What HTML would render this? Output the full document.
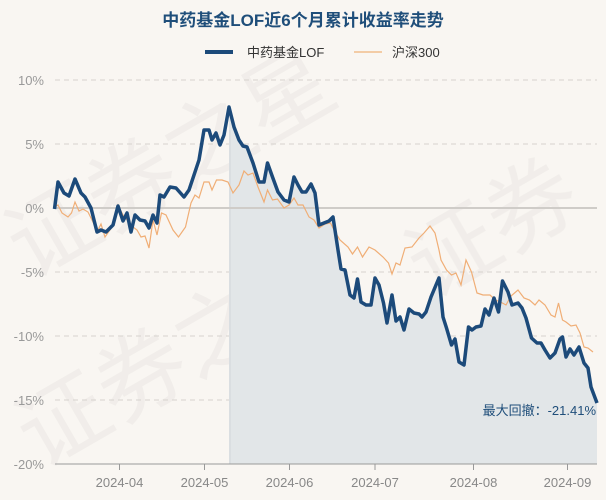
<!DOCTYPE html>
<html><head><meta charset="utf-8"><style>
html,body{margin:0;padding:0;background:#f9f6f2;width:606px;height:500px;overflow:hidden;}
svg{display:block;font-family:"Liberation Sans","Noto Sans CJK SC",sans-serif;}
</style></head><body>
<svg width="606" height="500" viewBox="0 0 606 500">
<rect width="606" height="500" fill="#f9f6f2"/>
<g fill="#ebe8e4" font-size="90" opacity="0.6">
<text x="30" y="280" transform="rotate(-30 30 280)">证券之星</text>
<text x="40" y="470" transform="rotate(-30 40 470)">证券之</text>
<text x="430" y="300" transform="rotate(-30 430 300)">证券</text>
</g>
<text x="303" y="26" text-anchor="middle" font-size="17" font-weight="bold" fill="#1f4e7a">中药基金LOF近6个月累计收益率走势</text>
<line x1="205" y1="52" x2="233" y2="52" stroke="#1c4a7a" stroke-width="4"/>
<text x="247" y="57" font-size="13" fill="#333">中药基金LOF</text>
<line x1="354" y1="52" x2="382" y2="52" stroke="#f0b27a" stroke-width="1.2"/>
<text x="392" y="57" font-size="13" fill="#333">沪深300</text>
<g stroke="#d6d3cf" stroke-dasharray="5,4" stroke-width="1">
<line x1="55" y1="80" x2="597" y2="80"/><line x1="55" y1="144" x2="597" y2="144"/>
<line x1="55" y1="272" x2="597" y2="272"/><line x1="55" y1="336" x2="597" y2="336"/>
<line x1="55" y1="400" x2="597" y2="400"/>
</g>
<g font-size="13" fill="#999" text-anchor="end">
<text x="44" y="85">10%</text><text x="44" y="149">5%</text><text x="44" y="213">0%</text>
<text x="44" y="277">-5%</text><text x="44" y="341">-10%</text><text x="44" y="405">-15%</text><text x="44" y="469">-20%</text>
</g>
<path d="M229,107 L234,127 L239,140 L243,146 L247,147 L253,163 L259,182 L264,182 L267.5,163 L272.5,177 L278,192 L284,200 L289,202 L294,177 L298,185 L302,192 L306,192 L311,184 L315,193 L319,225 L324,223 L329,221 L333,217 L338,250 L341,269 L345,270 L350,295 L354,298 L357.5,279 L361,302 L366,305 L371,305 L375,278 L379,285 L383.5,303 L387,323 L392,295 L396,321 L400,317 L404,330 L409,309 L414,313 L419,314 L422,317 L426,312 L431,297 L436,285 L439,278 L443,317 L446.5,328 L451.5,345 L455,339 L459,362 L464,365 L468.5,327 L472,330 L476,327 L481,326 L485,309 L489,315 L494,298 L498.5,312 L502.5,281 L508,292 L512,305 L518,303 L522,308 L526,318 L531.5,338 L537,343 L541,343 L545,350 L550,358 L555,353 L560,339 L562.5,337 L566,357 L570,349 L574,355 L579,347 L584,363 L588,368 L591,387 L597,403 L597,464 L229,464 Z" fill="#e2e6e8"/>
<line x1="230" y1="130" x2="230" y2="464" stroke="#d3d7da" stroke-width="1"/>
<line x1="55" y1="208" x2="597" y2="208" stroke="#cfccc8" stroke-width="2"/>
<polyline fill="none" stroke="#f0ae76" stroke-width="1.2" points="54.5,207 58,205 62,213 68,217 71.5,213 75,202 79,211 83,209 88,212 93,222 97,232 101,224 105,237 112,227 118,205 124,217 129.5,222 133,227 137,230 141,237 145,236 149,248 153,220 157,235 161.5,213 166,215 173,230 178.5,237 185.5,227 191,203 195,195 199,198 204,182 209,182 212,190 216.5,180 222,180 228,182 233,193 239,185 244,171 248,175 253,173 258,187 264,202 267.5,190 272.5,200 277.5,199 284,208 289,205 294,198 298,205 303,205 309,217 314,220 319,228 325,224 330.5,223 334,230 340,240 348,247 352.5,254 357.5,247 362.5,257 369,247 375,250 383,257 388.5,263 392,274 396,263 400,265 405,248 412,247 419,238 424,233 430,226 435,233 439,250 441,260 446.5,270 451.5,275 456,273 461,285 466,260 471.5,272 477,293 483,295 490,295 495.5,300 500.5,302 506,305 511,296 518,290 524,298 529.5,300 535,305 539,300 545,305 551,315 555,317 558.5,303 562.5,320 566,322 571,326 576,325 580,333 584,347 588,348 593,352"/>
<polyline fill="none" stroke="#1c4a7a" stroke-width="3.5" stroke-linejoin="round" points="54.5,209 58,182 64,193 69,196 75,179 81,193 85,197 91,208 97,232 101,230 106,232 113,225 118,206 123,221 127,213 131,232 135,215 140,220 145,221 149,228 153,215 157,223 160,195 164,197 170,187 176,188 184,197 189,190 199,160 204,130 209,130 212,140 216,133 220,145 224,135 229,107 234,127 239,140 243,146 247,147 253,163 259,182 264,182 267.5,163 272.5,177 278,192 284,200 289,202 294,177 298,185 302,192 306,192 311,184 315,193 319,225 324,223 329,221 333,217 338,250 341,269 345,270 350,295 354,298 357.5,279 361,302 366,305 371,305 375,278 379,285 383.5,303 387,323 392,295 396,321 400,317 404,330 409,309 414,313 419,314 422,317 426,312 431,297 436,285 439,278 443,317 446.5,328 451.5,345 455,339 459,362 464,365 468.5,327 472,330 476,327 481,326 485,309 489,315 494,298 498.5,312 502.5,281 508,292 512,305 518,303 522,308 526,318 531.5,338 537,343 541,343 545,350 550,358 555,353 560,339 562.5,337 566,357 570,349 574,355 579,347 584,363 588,368 591,387 597,403"/>
<text x="596" y="415" text-anchor="end" font-size="13" fill="#1f4e7a">最大回撤：-21.41%</text>
<line x1="55" y1="464" x2="597" y2="464" stroke="#999" stroke-width="1"/>
<g stroke="#999"><line x1="119.5" y1="464" x2="119.5" y2="470"/><line x1="204.5" y1="464" x2="204.5" y2="470"/><line x1="289.5" y1="464" x2="289.5" y2="470"/><line x1="375" y1="464" x2="375" y2="470"/><line x1="473.5" y1="464" x2="473.5" y2="470"/><line x1="567.5" y1="464" x2="567.5" y2="470"/></g>
<g font-size="13" fill="#888" text-anchor="middle">
<text x="119.5" y="487">2024-04</text><text x="204.5" y="487">2024-05</text><text x="289.5" y="487">2024-06</text>
<text x="375" y="487">2024-07</text><text x="473.5" y="487">2024-08</text><text x="567.5" y="487">2024-09</text>
</g>
</svg>
</body></html>
